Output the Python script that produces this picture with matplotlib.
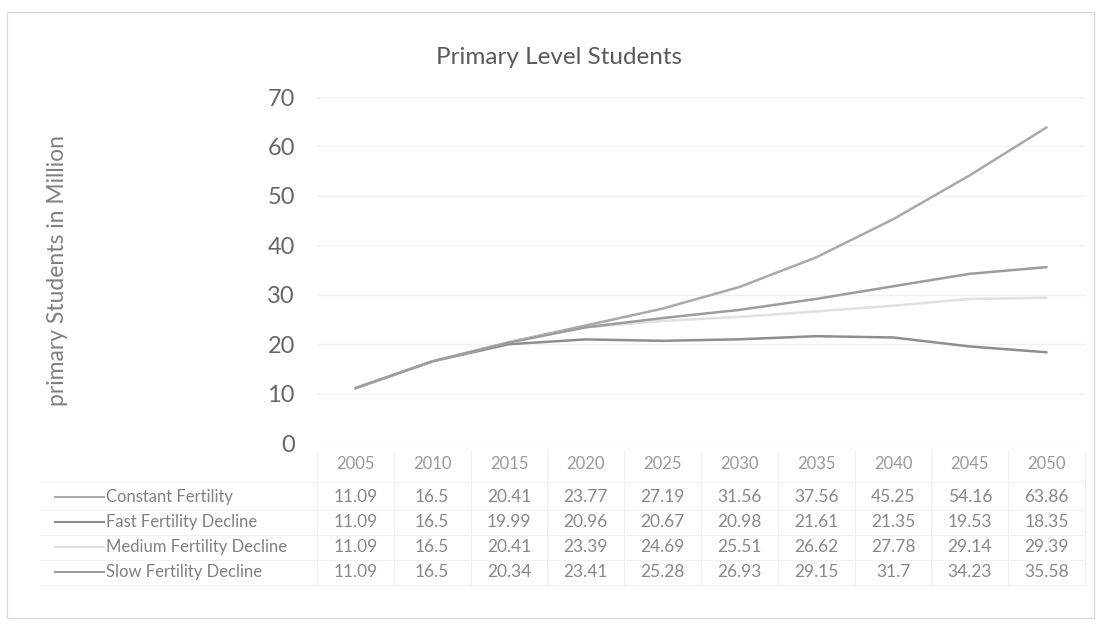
import matplotlib
matplotlib.use("Agg")
import matplotlib.pyplot as plt
from matplotlib.lines import Line2D
from matplotlib.patches import Rectangle
from matplotlib.transforms import blended_transform_factory

# ---- data ----
years = ["2005", "2010", "2015", "2020", "2025", "2030", "2035", "2040", "2045", "2050"]
series_names = ["Constant Fertility", "Fast Fertility Decline",
                "Medium Fertility Decline", "Slow Fertility Decline"]
constant = [11.09, 16.5, 20.41, 23.77, 27.19, 31.56, 37.56, 45.25, 54.16, 63.86]
fast = [11.09, 16.5, 19.99, 20.96, 20.67, 20.98, 21.61, 21.35, 19.53, 18.35]
medium = [11.09, 16.5, 20.41, 23.39, 24.69, 25.51, 26.62, 27.78, 29.14, 29.39]
slow = [11.09, 16.5, 20.34, 23.41, 25.28, 26.93, 29.15, 31.7, 34.23, 35.58]
yticks = [0, 10, 20, 30, 40, 50, 60, 70]

series = [constant, fast, medium, slow]
colors = ["#a9a9a9", "#8e8e8e", "#e0e0e0", "#9c9c9c"]

plt.rcParams["font.family"] = ["Lato", "DejaVu Sans"]

W, H = 1098, 631
fig = plt.figure(figsize=(W / 100, H / 100), dpi=100)


def fy(px):
    """Figure fraction for a pixel row measured from the top."""
    return 1 - px / H


def fx(px):
    return px / W


# plot area
left, right, top, bottom = 317, 1085, 97, 443
ax = fig.add_axes([fx(left), fy(bottom), fx(right) - fx(left), fy(top) - fy(bottom)])
x = list(range(len(years)))
for vals, c in zip(series, colors):
    ax.plot(x, vals, color=c, lw=1.8, solid_capstyle="round", solid_joinstyle="round")

ax.set_xlim(-0.5, len(years) - 0.5)
ax.set_ylim(0, 70)
ax.set_yticks(yticks)
ax.set_yticklabels([str(t) for t in yticks], fontsize=17, color="#666666")
ax.tick_params(axis="y", length=0, pad=16)
ax.set_xticks([])
for s in ax.spines.values():
    s.set_visible(False)
ax.grid(axis="y", color="#f0f0f0", lw=1.0)
ax.set_axisbelow(True)

# title and axis label
fig.text(fx(559), fy(58), "Primary Level Students", ha="center", va="center",
         fontsize=17.5, color="#5a5a5a")
fig.text(fx(58), fy(270), "primary Students in Million", ha="center", va="center",
         rotation=90, fontsize=16.5, color="#808080")

# data table under the plot
tr = blended_transform_factory(ax.transData, fig.transFigure)
header_y = 464
row_ys = [497, 522, 547, 572]
for i, yr in enumerate(years):
    ax.text(i, fy(header_y), yr, transform=tr, ha="center", va="center",
            fontsize=12, color="#999999", clip_on=False)
for vals, ry in zip(series, row_ys):
    for i, v in enumerate(vals):
        ax.text(i, fy(ry), f"{v:g}", transform=tr, ha="center", va="center",
                fontsize=12.5, color="#888888", clip_on=False)

for name, c, ry in zip(series_names, colors, row_ys):
    fig.add_artist(Line2D([fx(55), fx(104)], [fy(ry), fy(ry)], color=c, lw=1.5,
                          transform=fig.transFigure))
    fig.text(fx(106), fy(ry), name, ha="left", va="center", fontsize=12,
             color="#808080")

# table grid
grid_c = "#f0f0f0"
table_bot = 585
for yy in [482] + [r + 12.5 for r in row_ys]:
    fig.add_artist(Line2D([fx(40), fx(right)], [fy(yy), fy(yy)], color=grid_c,
                          lw=0.8, transform=fig.transFigure))
for i in range(len(years) + 1):
    ax.plot([i - 0.5, i - 0.5], [fy(450), fy(table_bot)], transform=tr,
            color=grid_c, lw=0.8, clip_on=False)

# outer chart frame
fig.add_artist(Rectangle((fx(7), fy(618)), fx(1094) - fx(7), fy(12) - fy(618),
                         transform=fig.transFigure, fill=False,
                         edgecolor="#d9d9d9", lw=0.9))

fig.savefig("out.png", dpi=100, facecolor="white")
